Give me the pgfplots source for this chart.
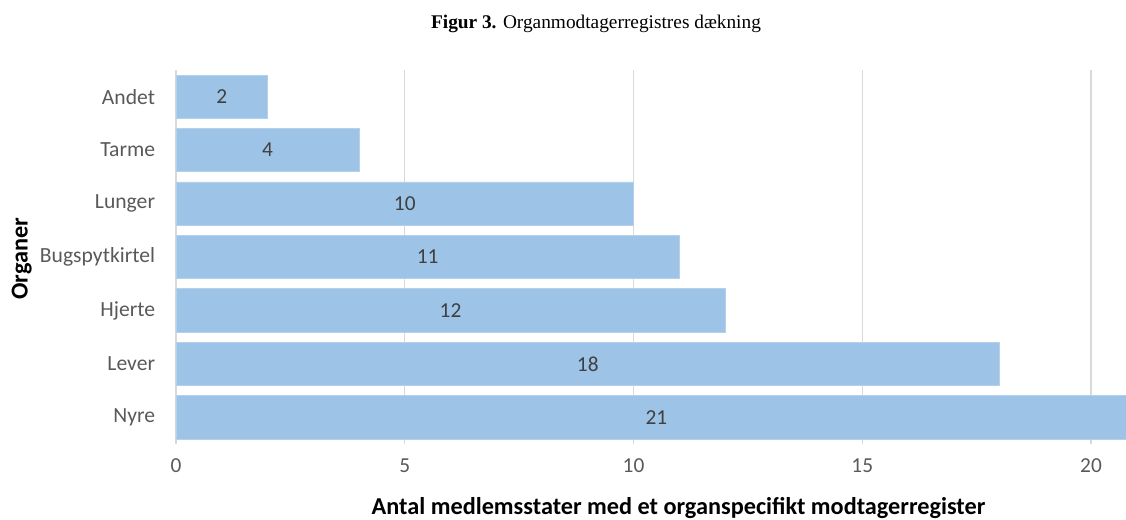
\documentclass[border=0pt]{standalone}
\usepackage{fontspec}
\setmainfont{Carlito}
\newfontfamily\titlefont{Liberation Serif}
\usepackage{pgfplots}
\usepackage{pgfplotstable}
\pgfplotsset{compat=1.18}
\definecolor{barblue}{HTML}{9DC3E6}
\definecolor{baredge}{HTML}{B4D1EC}
\definecolor{gridgray}{HTML}{D9D9D9}
\definecolor{ticktext}{HTML}{595959}
\definecolor{valtext}{HTML}{404040}
\pgfplotstableread{
y v
0 21
1 18
2 12
3 11
4 10
5 4
6 2
}\datatable
\begin{document}
\begin{tikzpicture}[x=1pt,y=1pt]
\path[use as bounding box] (-132pt,-56.25pt) rectangle (712.5pt,333pt);
\begin{axis}[
  at={(0pt,0pt)}, anchor=south west,
  scale only axis,
  width=712.5pt, height=280.5pt,
  xbar, bar width=0.81,
  xmin=0, xmax=20.765,
  ymin=-0.5, ymax=6.5,
  xtick={0,5,10,15,20},
  ytick={0,1,2,3,4,5,6},
  yticklabels={Nyre,Lever,Hjerte,Bugspytkirtel,Lunger,Tarme,Andet},
  axis line style={draw=none},
  axis x line*=bottom,
  axis y line*=left,
  tick style={draw=none},
  xmajorgrids, grid style={gridgray, line width=0.9pt},
  xticklabel style={anchor=center, yshift=-16.5pt, font=\fontsize{16}{19}\selectfont, text=ticktext},
  yticklabel style={anchor=east, inner sep=0pt, xshift=-11.25pt, font=\fontsize{16.2}{19}\selectfont, text=ticktext},
  /pgf/number format/assume math mode=true,
  xlabel={Antal medlemsstater med et organspecifikt modtagerregister},
  ylabel={Organer},
  x label style={at={(axis description cs:0.529,0)}, anchor=center, yshift=-48pt, font=\bfseries\fontsize{18.2}{21}\selectfont},
  y label style={at={(axis description cs:-0.1625,0.495)}, anchor=center, font=\bfseries\fontsize{18.2}{21}\selectfont},
  clip=true,
]
\draw[gridgray, line width=0.9pt] (axis cs:0,-0.5) -- (axis cs:0,6.5);
\addplot[fill=barblue, draw=baredge, line width=0.6pt] table[x=v, y=y] {\datatable};
\addplot[draw=none, mark=none, only marks, nodes near coords, point meta=explicit symbolic,
  nodes near coords style={anchor=center, text=valtext, font=\fontsize{16}{19}\selectfont}]
  table[x expr=\thisrow{v}/2, y=y, meta=v] {\datatable};
\end{axis}
\node[font=\titlefont\fontsize{14.5}{17}\selectfont, anchor=center] at (315pt,315pt) {\textbf{Figur 3.} Organmodtagerregistres dækning};
\end{tikzpicture}
\end{document}
